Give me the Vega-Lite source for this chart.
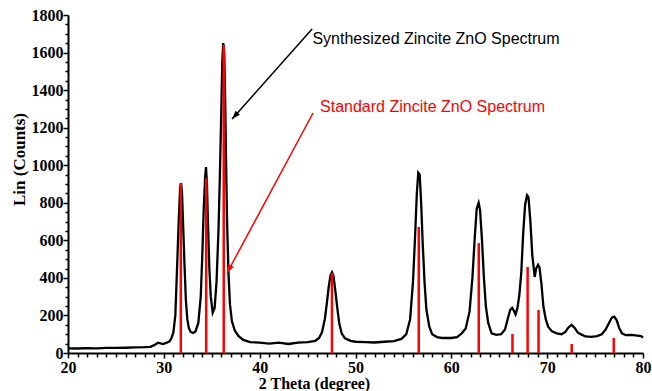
{
  "$schema": "https://vega.github.io/schema/vega-lite/v6.json",
  "autosize": {"type": "none"},
  "padding": {"left": 68, "top": 15, "right": 9, "bottom": 38},
  "width": 575,
  "height": 338,
  "background": "white",
  "config": {"view": {"stroke": null}},
  "datasets": {
    "curve": [
      {"t":20,"c":25},{"t":21,"c":24},{"t":22,"c":26},{"t":23,"c":25},{"t":24,"c":27},{"t":25,"c":27},{"t":26,"c":28},{"t":27,"c":30},{"t":28,"c":31},{"t":28.6,"c":33},
      {"t":29,"c":42},{"t":29.4,"c":55},{"t":29.9,"c":48},{"t":30.3,"c":55},{"t":30.6,"c":62},{"t":30.8,"c":80},{"t":31.0,"c":110},{"t":31.2,"c":200},{"t":31.4,"c":480},{"t":31.55,"c":700},
      {"t":31.7,"c":880},{"t":31.8,"c":905},{"t":31.9,"c":850},{"t":32.0,"c":700},{"t":32.15,"c":480},{"t":32.3,"c":280},{"t":32.45,"c":180},{"t":32.6,"c":135},{"t":32.8,"c":112},{"t":33.05,"c":107},
      {"t":33.3,"c":115},{"t":33.6,"c":160},{"t":33.85,"c":300},{"t":34.0,"c":500},{"t":34.15,"c":750},{"t":34.3,"c":930},{"t":34.4,"c":990},{"t":34.5,"c":900},{"t":34.6,"c":700},{"t":34.75,"c":450},
      {"t":34.9,"c":300},{"t":35.1,"c":215},{"t":35.3,"c":240},{"t":35.5,"c":380},{"t":35.7,"c":650},{"t":35.85,"c":950},{"t":36.0,"c":1300},{"t":36.1,"c":1550},{"t":36.2,"c":1650},{"t":36.3,"c":1600},
      {"t":36.4,"c":1350},{"t":36.5,"c":1000},{"t":36.6,"c":700},{"t":36.75,"c":420},{"t":36.9,"c":260},{"t":37.1,"c":170},{"t":37.4,"c":120},{"t":37.8,"c":90},{"t":38.3,"c":70},{"t":39,"c":58},
      {"t":40,"c":55},{"t":41,"c":50},{"t":42,"c":55},{"t":43,"c":48},{"t":44,"c":55},{"t":45,"c":58},{"t":45.8,"c":65},{"t":46.2,"c":80},{"t":46.5,"c":110},{"t":46.8,"c":180},
      {"t":47.0,"c":260},{"t":47.2,"c":350},{"t":47.4,"c":415},{"t":47.55,"c":430},{"t":47.7,"c":410},{"t":47.9,"c":330},{"t":48.1,"c":240},{"t":48.3,"c":160},{"t":48.55,"c":105},{"t":48.9,"c":78},
      {"t":49.5,"c":65},{"t":50,"c":60},{"t":51,"c":58},{"t":52,"c":56},{"t":53,"c":60},{"t":54,"c":63},{"t":54.8,"c":75},{"t":55.3,"c":100},{"t":55.7,"c":180},{"t":56.0,"c":380},
      {"t":56.2,"c":600},{"t":56.4,"c":850},{"t":56.55,"c":960},{"t":56.7,"c":950},{"t":56.85,"c":800},{"t":57.0,"c":600},{"t":57.2,"c":380},{"t":57.4,"c":230},{"t":57.7,"c":140},{"t":58.0,"c":100},
      {"t":58.5,"c":85},{"t":59,"c":80},{"t":60,"c":80},{"t":60.6,"c":85},{"t":61.1,"c":105},{"t":61.5,"c":130},{"t":61.9,"c":220},{"t":62.2,"c":400},{"t":62.45,"c":620},{"t":62.65,"c":770},
      {"t":62.85,"c":800},{"t":63.0,"c":760},{"t":63.2,"c":600},{"t":63.4,"c":400},{"t":63.6,"c":250},{"t":63.85,"c":160},{"t":64.2,"c":105},{"t":64.7,"c":97},{"t":65.2,"c":100},{"t":65.6,"c":125},
      {"t":65.9,"c":185},{"t":66.15,"c":230},{"t":66.35,"c":240},{"t":66.5,"c":228},{"t":66.7,"c":205},{"t":66.9,"c":240},{"t":67.1,"c":310},{"t":67.3,"c":430},{"t":67.5,"c":640},{"t":67.7,"c":790},
      {"t":67.9,"c":840},{"t":68.05,"c":830},{"t":68.25,"c":700},{"t":68.45,"c":520},{"t":68.7,"c":405},{"t":68.85,"c":450},{"t":69.05,"c":470},{"t":69.2,"c":455},{"t":69.4,"c":370},{"t":69.6,"c":250},
      {"t":69.85,"c":180},{"t":70.1,"c":140},{"t":70.5,"c":115},{"t":71,"c":105},{"t":71.5,"c":100},{"t":71.9,"c":112},{"t":72.2,"c":135},{"t":72.55,"c":150},{"t":72.85,"c":135},{"t":73.2,"c":108},
      {"t":73.6,"c":98},{"t":74,"c":88},{"t":74.6,"c":86},{"t":75.2,"c":90},{"t":75.7,"c":100},{"t":76.1,"c":125},{"t":76.45,"c":160},{"t":76.75,"c":188},{"t":77.0,"c":193},{"t":77.25,"c":175},
      {"t":77.5,"c":135},{"t":77.8,"c":105},{"t":78.2,"c":95},{"t":78.8,"c":96},{"t":79.4,"c":93},{"t":79.8,"c":90},{"t":80,"c":82}
    ],
    "std": [
      {"t":31.77,"c":905},{"t":34.42,"c":930},{"t":36.25,"c":1640},{"t":47.54,"c":426},{"t":56.6,"c":671},{"t":62.86,"c":585},
      {"t":66.38,"c":101},{"t":67.96,"c":458},{"t":69.1,"c":229},{"t":72.56,"c":48},{"t":76.95,"c":80}
    ],
    "arrows": [
      {"k":"syn","t":45.47,"c":1725,"t2":37.12,"c2":1246},
      {"k":"std","t":45.57,"c":1278,"t2":36.6,"c2":426}
    ],
    "heads": [
      {"k":"syn","t":37.12,"c":1246},
      {"k":"std","t":36.6,"c":426}
    ],
    "notes": [
      {"k":"syn","t":45.5,"c":1672,"label":"Synthesized Zincite ZnO Spectrum"},
      {"k":"std","t":46.3,"c":1310,"label":"Standard Zincite ZnO Spectrum"}
    ]
  },
  "encoding": {
    "x": {
      "field": "t", "type": "quantitative",
      "scale": {"domain": [20, 80], "nice": false, "zero": false},
      "axis": {
        "title": "2 Theta (degree)",
        "values": [20,21,22,23,24,25,26,27,28,29,30,31,32,33,34,35,36,37,38,39,40,41,42,43,44,45,46,47,48,49,50,51,52,53,54,55,56,57,58,59,60,61,62,63,64,65,66,67,68,69,70,71,72,73,74,75,76,77,78,79,80],
        "labelExpr": "datum.value % 10 === 0 ? datum.value : ''",
        "labelOverlap": false,
        "labelFlush": false,
        "grid": false,
        "domainColor": "black", "domainWidth": 2,
        "tickColor": "black", "tickWidth": 1.5,
        "tickSize": {"condition": {"test": "datum.value % 10 === 0", "value": 5}, "value": 4},
        "labelFont": "Liberation Serif", "labelFontWeight": "bold", "labelFontSize": 16, "labelColor": "black", "labelPadding": 1,
        "titleFont": "Liberation Serif", "titleFontWeight": "bold", "titleFontSize": 16, "titleColor": "black",
        "titleX": 246, "titleY": 30, "titleAlign": "center", "titleBaseline": "middle"
      }
    },
    "y": {
      "field": "c", "type": "quantitative",
      "scale": {"domain": [0, 1800], "nice": false},
      "axis": {
        "title": "Lin (Counts)",
        "values": [0,50,100,150,200,250,300,350,400,450,500,550,600,650,700,750,800,850,900,950,1000,1050,1100,1150,1200,1250,1300,1350,1400,1450,1500,1550,1600,1650,1700,1750,1800],
        "labelExpr": "datum.value % 200 === 0 ? datum.value : ''",
        "labelOverlap": false,
        "labelFlush": false,
        "grid": false,
        "domainColor": "black", "domainWidth": 2,
        "tickColor": "black", "tickWidth": 1.5,
        "tickSize": {"condition": {"test": "datum.value % 200 === 0", "value": 5}, "value": 3},
        "labelFont": "Liberation Serif", "labelFontWeight": "bold", "labelFontSize": 16, "labelColor": "black", "labelPadding": 0,
        "titleFont": "Liberation Serif", "titleFontWeight": "bold", "titleFontSize": 17, "titleColor": "black",
        "titleX": -49, "titleY": 144, "titleAlign": "center", "titleBaseline": "middle"
      }
    }
  },
  "layer": [
    {
      "data": {"name": "curve"},
      "mark": {"type": "line", "color": "black", "strokeWidth": 2.3, "interpolate": "linear"}
    },
    {
      "data": {"name": "std"},
      "mark": {"type": "rule", "color": "#ff0000", "strokeWidth": 2.5},
      "encoding": {"y2": {"datum": 0}}
    },
    {
      "data": {"name": "arrows"},
      "transform": [{"filter": "datum.k === 'syn'"}],
      "mark": {"type": "rule", "color": "black", "strokeWidth": 1.5},
      "encoding": {"x2": {"field": "t2"}, "y2": {"field": "c2"}}
    },
    {
      "data": {"name": "heads"},
      "transform": [{"filter": "datum.k === 'syn'"}],
      "mark": {"type": "point", "shape": "M0,0L0.6,1.7L-0.6,1.7Z", "filled": true, "color": "black", "size": 100, "opacity": 1, "angle": 221.6},
      "encoding": {}
    },
    {
      "data": {"name": "arrows"},
      "transform": [{"filter": "datum.k === 'std'"}],
      "mark": {"type": "rule", "color": "#ff0000", "strokeWidth": 1.5},
      "encoding": {"x2": {"field": "t2"}, "y2": {"field": "c2"}}
    },
    {
      "data": {"name": "heads"},
      "transform": [{"filter": "datum.k === 'std'"}],
      "mark": {"type": "point", "shape": "M0,0L0.6,1.7L-0.6,1.7Z", "filled": true, "color": "#ff0000", "size": 100, "opacity": 1, "angle": 208.3},
      "encoding": {}
    },
    {
      "data": {"name": "notes"},
      "transform": [{"filter": "datum.k === 'syn'"}],
      "mark": {"type": "text", "align": "left", "baseline": "middle", "font": "Liberation Sans", "fontSize": 16, "color": "black"},
      "encoding": {"text": {"field": "label"}}
    },
    {
      "data": {"name": "notes"},
      "transform": [{"filter": "datum.k === 'std'"}],
      "mark": {"type": "text", "align": "left", "baseline": "middle", "font": "Liberation Sans", "fontSize": 16, "color": "#ff0000"},
      "encoding": {"text": {"field": "label"}}
    }
  ]
}
